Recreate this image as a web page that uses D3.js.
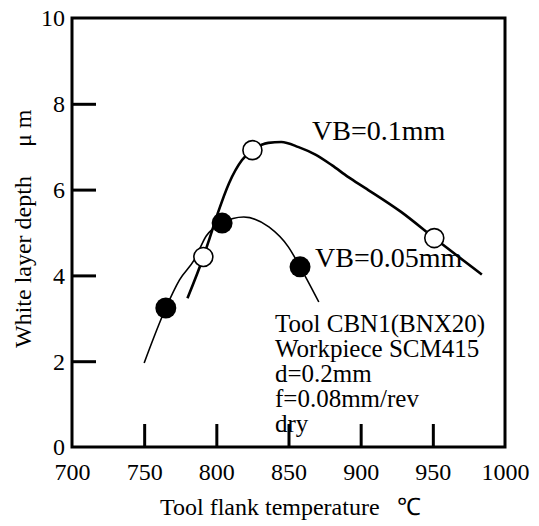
<!DOCTYPE html>
<html>
<head>
<meta charset="utf-8">
<script src="https://cdn.jsdelivr.net/npm/d3@7"></script>
<style>
  body { margin: 0; background: #fff; }
  text { font-family: "Liberation Serif", "Times New Roman", serif; fill: #000; }
</style>
</head>
<body>
<div id="chart"></div>
<script>
var width = 539;
var height = 526;

// axis ticks
var xTicks = [700, 750, 800, 850, 900, 950, 1000];
var yTicks = [0, 2, 4, 6, 8, 10];

// measured points (temperature, depth)
var vb01Points = [[791, 4.43], [825, 6.92], [951, 4.87]];
var vb005Points = [[765, 3.24], [804, 5.22], [858, 4.2]];

// fitted curves
var vb01Curve = [[780, 3.47], [791, 4.43], [795, 4.83], [800.6, 5.41], [808.8, 6.15],
  [817.8, 6.69], [825, 6.92], [836, 7.09], [845, 7.11], [857, 6.99], [869, 6.81],
  [880, 6.57], [891.5, 6.29], [903, 6.04], [928, 5.48], [951, 4.87], [984, 4.02]];
var vb005Curve = [[750, 1.96], [765, 3.24], [774.4, 3.89], [784.7, 4.36], [793, 4.92],
  [804, 5.22], [819, 5.36], [836.4, 5.13], [850, 4.66], [858, 4.2], [871, 3.38]];

var noteLines = ["Tool CBN1(BNX20)", "Workpiece SCM415", "d=0.2mm", "f=0.08mm/rev", "dry"];

var plotL = 72, plotR = 505, plotT = 18, plotB = 447;

var svg = d3.select("#chart").append("svg")
  .attr("width", width)
  .attr("height", height);

var xScale = d3.scaleLinear().domain([700, 1000]).range([plotL, plotR]);
var yScale = d3.scaleLinear().domain([0, 10]).range([plotB, plotT]);

var line = d3.line()
  .x(function(d) { return xScale(d[0]); })
  .y(function(d) { return yScale(d[1]); })
  .curve(d3.curveMonotoneX);

// frame
svg.append("rect")
  .attr("x", plotL).attr("y", plotT)
  .attr("width", plotR - plotL).attr("height", plotB - plotT)
  .attr("fill", "none").attr("stroke", "#000").attr("stroke-width", 3);

// x axis, ticks point inward
var xAxis = d3.axisBottom(xScale).tickValues(xTicks).tickSize(-23).tickPadding(30)
  .tickFormat(d3.format("d"));
var gx = svg.append("g")
  .attr("transform", "translate(0," + plotB + ")")
  .call(xAxis);
gx.attr("font-family", null);
gx.select(".domain").remove();
gx.selectAll(".tick line").attr("stroke-width", 3);
gx.selectAll(".tick text")
  .attr("font-size", 24)
  .attr("y", 33).attr("dy", 0);

var yAxis = d3.axisLeft(yScale).tickValues(yTicks).tickSize(-24).tickPadding(7)
  .tickFormat(d3.format("d"));
var gy = svg.append("g")
  .attr("transform", "translate(" + plotL + ",0)")
  .call(yAxis);
gy.attr("font-family", null);
gy.select(".domain").remove();
gy.selectAll(".tick line").attr("stroke-width", 3);
gy.selectAll(".tick text")
  .attr("font-size", 24)
  .attr("x", -7).attr("dy", "0.33em");
// end ticks sit on the frame, hide them
gx.selectAll(".tick line").filter(function(d) { return d === 700 || d === 1000; }).remove();
gy.selectAll(".tick line").filter(function(d) { return d === 0 || d === 10; }).remove();

// curves
svg.append("path").datum(vb005Curve)
  .attr("d", line)
  .attr("fill", "none").attr("stroke", "#000").attr("stroke-width", 1.6);
svg.append("path").datum(vb01Curve)
  .attr("d", line)
  .attr("fill", "none").attr("stroke", "#000").attr("stroke-width", 2.6);

// markers
svg.selectAll(".filled").data(vb005Points).enter().append("circle")
  .attr("class", "filled")
  .attr("cx", function(d) { return xScale(d[0]); })
  .attr("cy", function(d) { return yScale(d[1]); })
  .attr("r", 10.5)
  .attr("fill", "#000");
svg.selectAll(".open").data(vb01Points).enter().append("circle")
  .attr("class", "open")
  .attr("cx", function(d) { return xScale(d[0]); })
  .attr("cy", function(d) { return yScale(d[1]); })
  .attr("r", 9.5)
  .attr("fill", "#fff").attr("stroke", "#000").attr("stroke-width", 1.6);

// series labels
svg.append("text").attr("x", 312).attr("y", 140).attr("font-size", 28).text("VB=0.1mm");
svg.append("text").attr("x", 315).attr("y", 267).attr("font-size", 28).text("VB=0.05mm");

// conditions note
svg.selectAll(".note").data(noteLines).enter().append("text")
  .attr("class", "note")
  .attr("x", 275)
  .attr("y", function(d, i) { return 332 + i * 25; })
  .attr("font-size", 25)
  .text(function(d) { return d; });

// axis titles
var xt = svg.append("text").attr("x", 160).attr("y", 515).attr("font-size", 24);
xt.append("tspan").text("Tool flank temperature");
xt.append("tspan").attr("x", 397).text("℃");

var yt = svg.append("text").attr("transform", "rotate(-90)")
  .attr("x", -348).attr("y", 31).attr("font-size", 24);
yt.append("tspan").text("White layer depth");
yt.append("tspan").attr("x", -147).text("μ m");
</script>
</body>
</html>
